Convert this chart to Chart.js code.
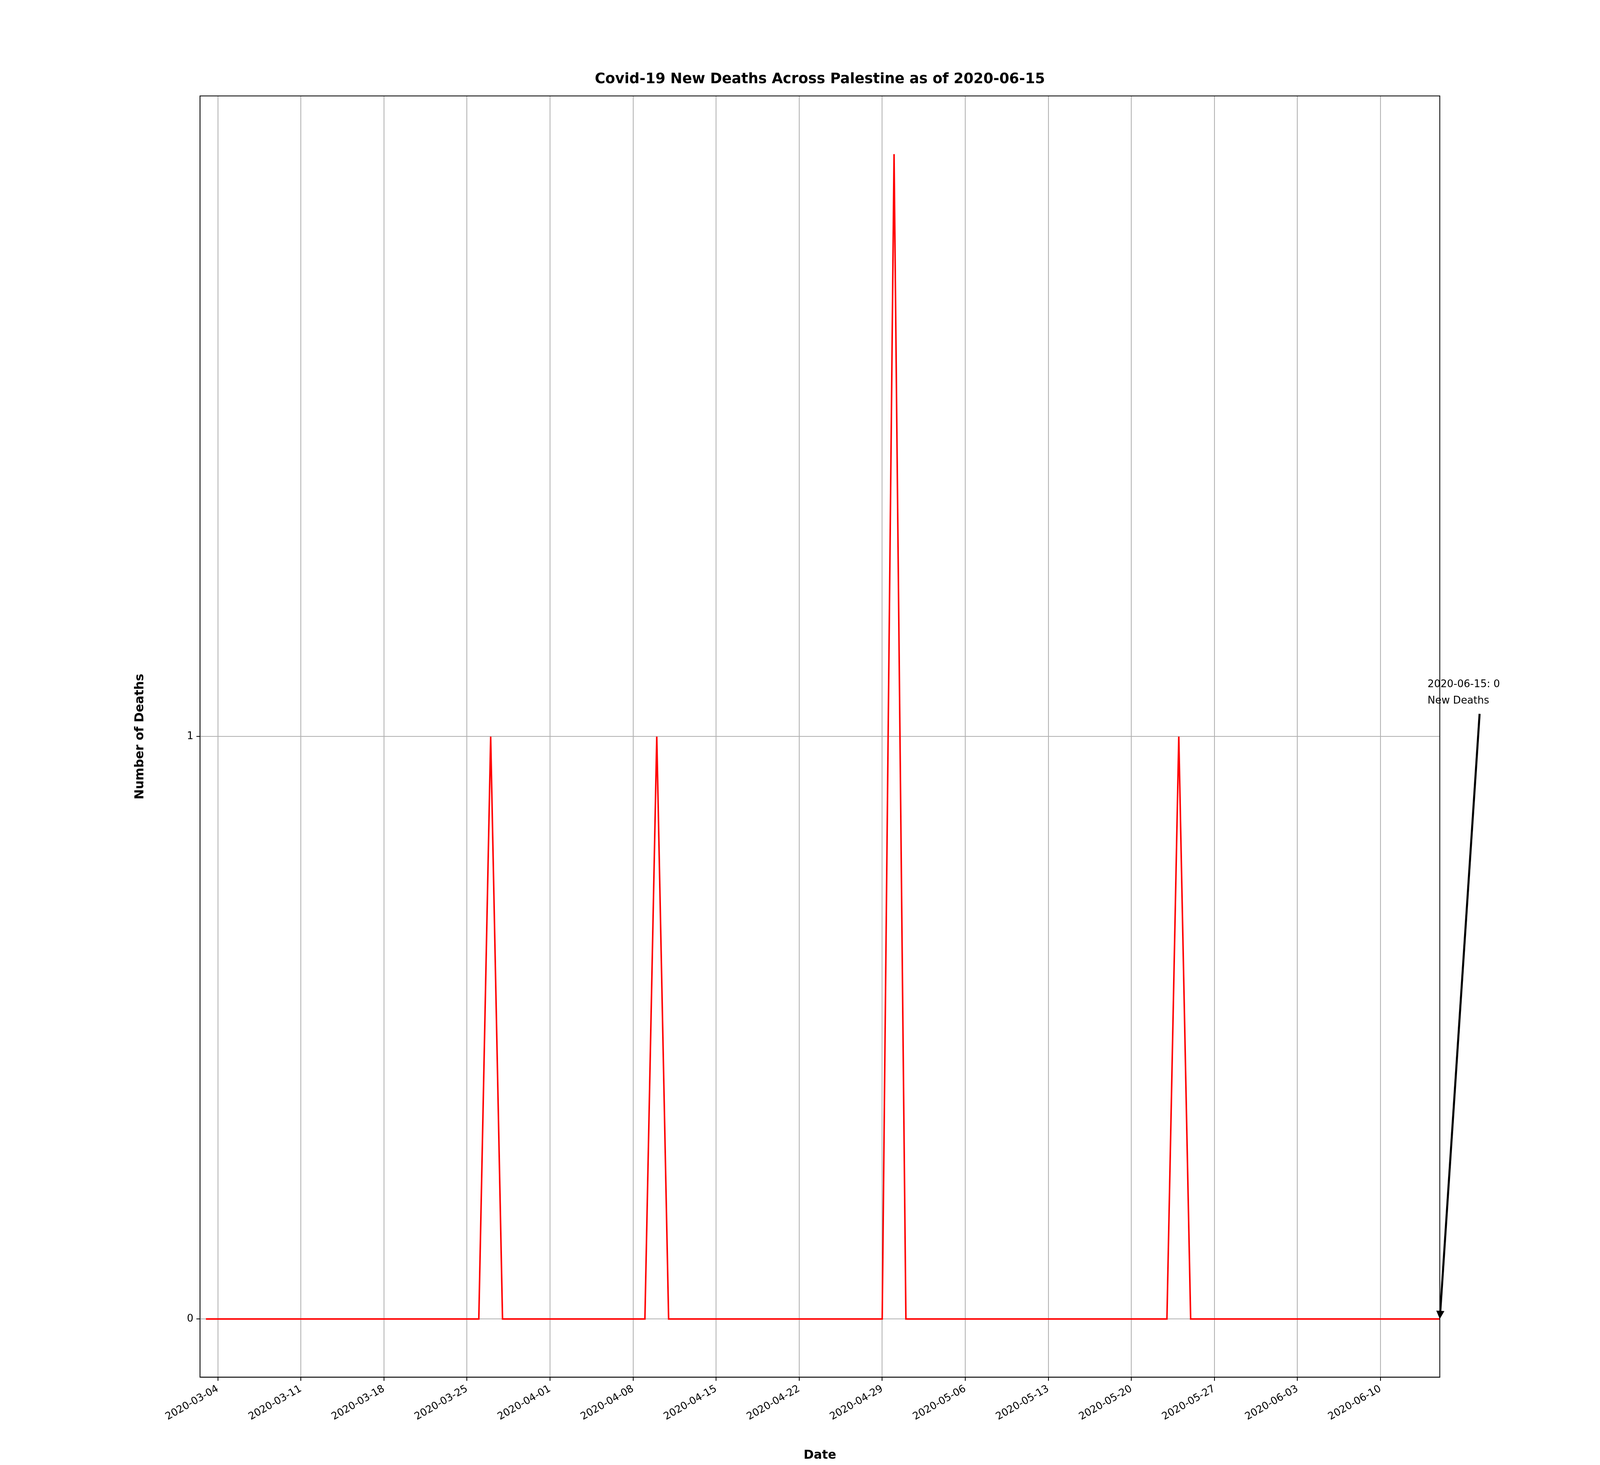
<!DOCTYPE html>
<html><head><meta charset="utf-8">
<script src="https://cdn.jsdelivr.net/npm/chart.js@4"></script>
<style>html,body{margin:0;padding:0;background:#fff;overflow:hidden}#w{width:100vw;height:100vh}</style>
</head><body><div id="w"><canvas id="c"></canvas></div>
<script>
const startDate = "2020-03-03";
const dayCount = 105;
const spikeDates = ["2020-03-27","2020-04-10","2020-04-30","2020-05-24"];
const spikeValues = [1,1,2,1];
const yTicks = [0,1];
const chartTitle = "Covid-19 New Deaths Across Palestine as of 2020-06-15";
const annotationText = ["2020-06-15: 0","New Deaths"];

const S = window.innerWidth/1568;
const d0 = new Date(startDate+"T00:00:00Z");
function dateStr(i){const d=new Date(d0.getTime()+i*86400000);return d.toISOString().slice(0,10);}
const dates=[],values=[];
for(let i=0;i<dayCount;i++){dates.push(dateStr(i));values.push(0);}
spikeDates.forEach((d,k)=>{const i=dates.indexOf(d);if(i>=0)values[i]=spikeValues[k];});
const pts=values.map((v,i)=>({x:i,y:v}));
const xTicks=[];for(let i=1;i<dayCount;i+=7)xTicks.push(i);

const deco={id:'deco',afterDraw(ch){
  const c=ch.ctx,a=ch.chartArea;
  c.save();
  c.strokeStyle='#000';c.lineWidth=0.8*S;
  c.strokeRect(a.left,a.top,a.right-a.left,a.bottom-a.top);
  c.fillStyle='#000';c.font='bold '+(14*S)+'px "DejaVu Sans"';
  c.textAlign='center';c.textBaseline='middle';
  c.fillText(chartTitle,(a.left+a.right)/2,a.top-16*S);
  const xs=ch.scales.x,ys=ch.scales.y;
  const px=xs.getPixelForValue(dayCount-1),py=ys.getPixelForValue(values[dayCount-1]);
  const tx=px+39*S,ty=py-593*S;
  c.lineWidth=2*S;c.beginPath();c.moveTo(tx,ty);
  const ang=Math.atan2(py-ty,px-tx);const hl=8*S;
  const ex=px-Math.cos(ang)*hl*0.6,ey=py-Math.sin(ang)*hl*0.6;
  c.lineTo(ex,ey);c.stroke();
  c.beginPath();c.moveTo(px,py);
  c.lineTo(px-hl*Math.cos(ang)+4*S*Math.sin(ang),py-hl*Math.sin(ang)-4*S*Math.cos(ang));
  c.lineTo(px-hl*Math.cos(ang)-4*S*Math.sin(ang),py-hl*Math.sin(ang)+4*S*Math.cos(ang));
  c.closePath();c.fill();
  c.font=(10*S)+'px "DejaVu Sans"';c.textAlign='left';c.textBaseline='alphabetic';
  c.fillText(annotationText[0],px-12*S,py-619*S);
  c.fillText(annotationText[1],px-12*S,py-603*S);
  c.restore();
}};

new Chart(document.getElementById('c'),{
  type:'line',
  data:{datasets:[{data:pts,borderColor:'#ff0000',borderWidth:1.5*S,pointRadius:0,tension:0,fill:false}]},
  options:{responsive:true,maintainAspectRatio:false,animation:false,
    layout:{padding:{left:130*S,right:1568*S-1411*S,top:94*S,bottom:2*S}},
    plugins:{legend:{display:false},tooltip:{enabled:false}},
    scales:{
      x:{type:'linear',min:-0.5,max:dayCount-1,
        afterBuildTicks:s=>{s.ticks=xTicks.map(v=>({value:v}));},
        afterFit:s=>{s.height=(784-698-2)*S;},
        ticks:{callback:v=>dateStr(v),minRotation:30,maxRotation:30,color:'#000',font:{size:10*S,family:'DejaVu Sans'},padding:2*S},
        grid:{color:'#b0b0b0',lineWidth:0.8*S,tickLength:3.5*S,tickColor:'#000'},
        border:{color:'#000',width:0.8*S},
        title:{display:true,text:'Date',color:'#000',font:{size:12*S,weight:'bold',family:'DejaVu Sans'},padding:0}
      },
      y:{min:-0.1,max:2.1,
        afterBuildTicks:s=>{s.ticks=yTicks.map(v=>({value:v}));},
        afterFit:s=>{s.width=(196-130)*S;},
        ticks:{color:'#000',font:{size:10*S,family:'DejaVu Sans'},padding:3*S},
        grid:{color:'#b0b0b0',lineWidth:0.8*S,tickLength:3.5*S,tickColor:'#000'},
        border:{color:'#000',width:0.8*S},
        title:{display:true,text:'Number of Deaths',color:'#000',font:{size:12*S,weight:'bold',family:'DejaVu Sans'},padding:{top:0,bottom:10*S}}
      }
    }
  },
  plugins:[deco]
});
</script></body></html>
